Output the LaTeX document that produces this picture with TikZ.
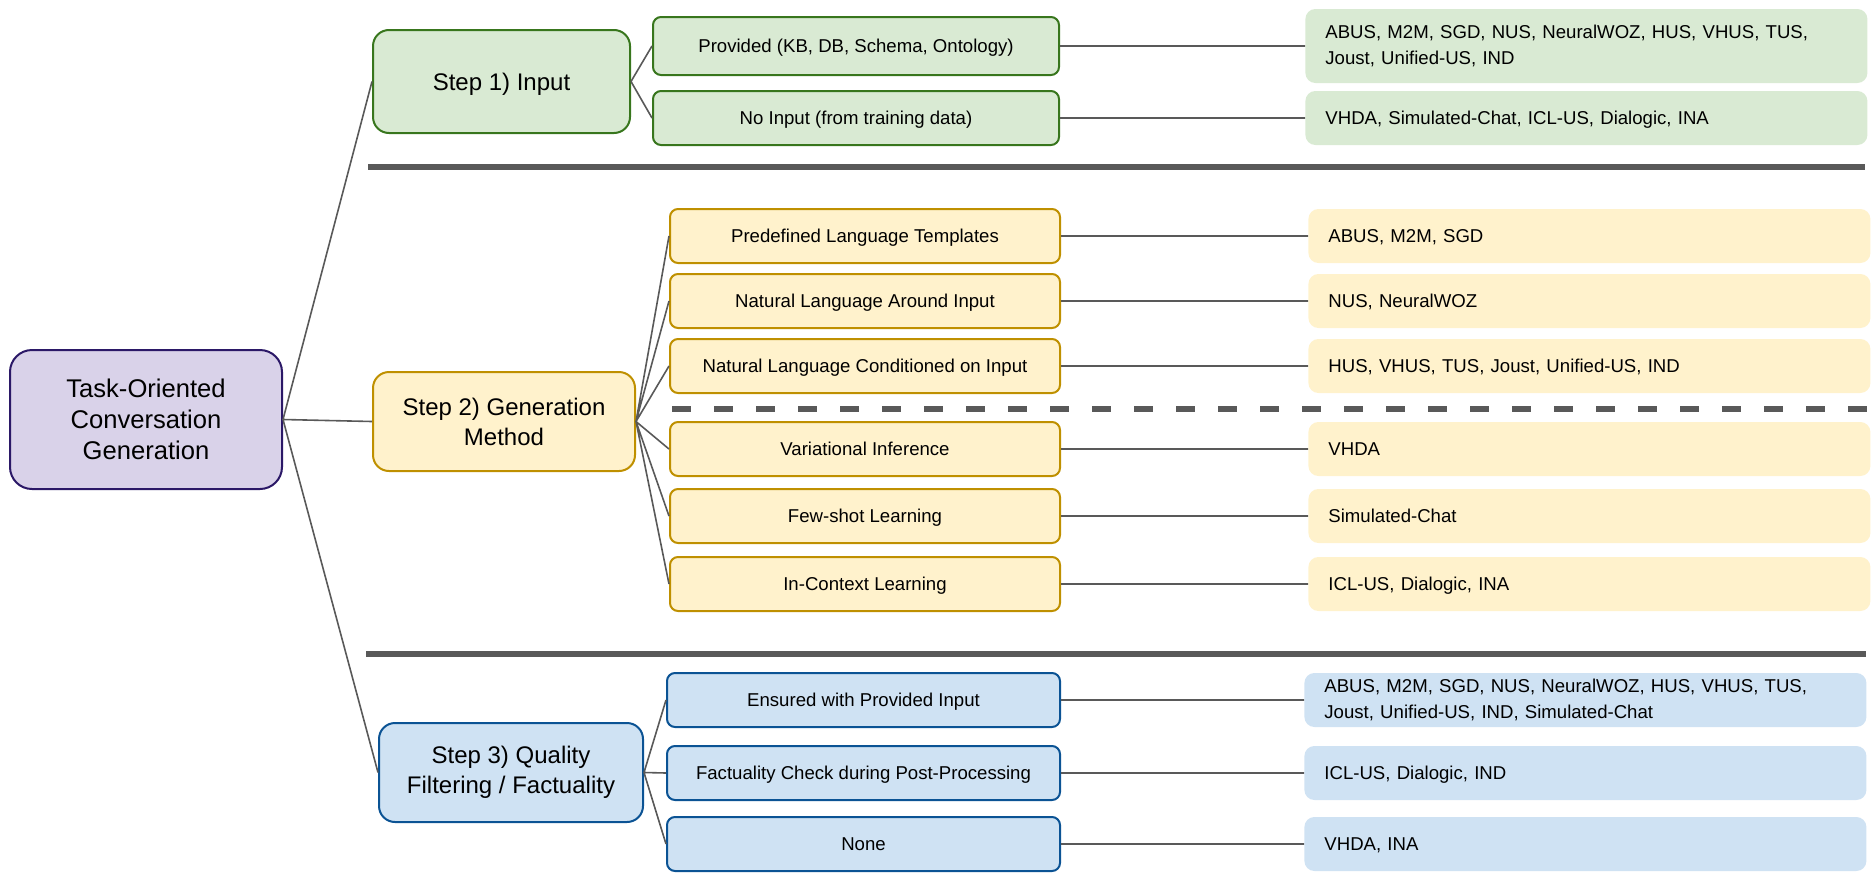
\documentclass[tikz,border=0pt]{standalone}
\usepackage{fontspec}
\setmainfont{Liberation Sans}
\usepackage{xcolor}
\usetikzlibrary{positioning}
\definecolor{rtfill}{HTML}{D9D2E9}
\definecolor{rtline}{HTML}{2B1867}
\definecolor{grfill}{HTML}{D9EAD3}
\definecolor{grline}{HTML}{38761D}
\definecolor{ylfill}{HTML}{FFF2CC}
\definecolor{ylline}{HTML}{BF9000}
\definecolor{blfill}{HTML}{CFE2F3}
\definecolor{blline}{HTML}{0B5394}
\definecolor{lngray}{HTML}{595959}
\tikzset{
	rootbox/.style={draw=rtline,fill=rtfill,line width=1pt,rounded corners=11pt,
		minimum width=136pt,minimum height=69.5pt,align=center,inner sep=0pt,
		font=\fontsize{12.8pt}{15.5pt}\selectfont},
	stepbox/.style={line width=1pt,rounded corners=8pt,minimum width=130pt,
		minimum height=49.5pt,align=center,inner sep=0pt,
		font=\fontsize{12pt}{15pt}\selectfont},
	choice/.style={line width=1pt,rounded corners=4pt,minimum width=195pt,
		minimum height=27pt,align=center,inner sep=0pt,text depth=0pt,
		font=\fontsize{9.3pt}{13pt}\selectfont},
	leaf/.style={rounded corners=5pt,minimum height=27pt,text width=261pt,
		inner xsep=10pt,inner ysep=0pt,align=left,
		font=\fontsize{9.3pt}{13pt}\selectfont},
	oneline/.style={text depth=0pt},
	green/.style={draw=grline,fill=grfill},
	yellow/.style={draw=ylline,fill=ylfill},
	blue/.style={draw=blline,fill=blfill},
	conn/.style={draw=lngray,line width=0.8pt},
	sepline/.style={draw=lngray,line width=2.8pt}
}
\begin{document}
\begin{tikzpicture}[x=0.5pt,y=-0.5pt]
\useasboundingbox (0,0) rectangle (1874,873);
	\node [rootbox] (t) at (146,419.5) {Task-Oriented\\Conversation\\Generation};

	\node [stepbox,green,oneline,minimum width=128.5pt,minimum height=51.5pt] (s1) at (501.5,81.5) {Step 1) Input};
	\node [choice,green,minimum width=203pt,minimum height=29pt] (s1a) at (856,46) {Provided (KB, DB, Schema, Ontology)};
	\node [choice,green,minimum width=203pt] (s1b) at (856,118) {No Input (from training data)};
	\node [leaf,fill=grfill,minimum height=37pt,right=122.5pt of s1a] (l1a) {ABUS, M2M, SGD, NUS, NeuralWOZ, HUS, VHUS, TUS,\\Joust, Unified-US, IND};
	\node [leaf,oneline,fill=grfill,right=122.5pt of s1b] (l1b) {VHDA, Simulated-Chat, ICL-US, Dialogic, INA};

	\node [stepbox,yellow,minimum width=131pt] (s2) at (504,421.5) {Step 2) Generation\\Method};
	\node [choice,yellow] (s2a) at (865,236) {Predefined Language Templates};
	\node [choice,yellow] (s2b) at (865,301) {Natural Language Around Input};
	\node [choice,yellow] (s2c) at (865,366) {Natural Language Conditioned on Input};
	\node [choice,yellow] (s2d) at (865,449) {Variational Inference};
	\node [choice,yellow] (s2e) at (865,516) {Few-shot Learning};
	\node [choice,yellow] (s2f) at (865,584) {In-Context Learning};
	\node [leaf,oneline,fill=ylfill,right=123.5pt of s2a] (l2a) {ABUS, M2M, SGD};
	\node [leaf,oneline,fill=ylfill,right=123.5pt of s2b] (l2b) {NUS, NeuralWOZ};
	\node [leaf,oneline,fill=ylfill,right=123.5pt of s2c] (l2c) {HUS, VHUS, TUS, Joust, Unified-US, IND};
	\node [leaf,oneline,fill=ylfill,right=123.5pt of s2d] (l2d) {VHDA};
	\node [leaf,oneline,fill=ylfill,right=123.5pt of s2e] (l2e) {Simulated-Chat};
	\node [leaf,oneline,fill=ylfill,right=123.5pt of s2f] (l2f) {ICL-US, Dialogic, INA};

	\node [stepbox,blue,minimum width=132pt] (s3) at (511,772.5) {Step 3) Quality\\Filtering / Factuality};
	\node [choice,blue,minimum width=196.5pt] (s3a) at (863.5,700) {Ensured with Provided Input};
	\node [choice,blue,minimum width=196.5pt] (s3b) at (863.5,773) {Factuality Check during Post-Processing};
	\node [choice,blue,minimum width=196.5pt] (s3c) at (863.5,844) {None};
	\node [leaf,fill=blfill,right=121.5pt of s3a] (l3a) {ABUS, M2M, SGD, NUS, NeuralWOZ, HUS, VHUS, TUS,\\Joust, Unified-US, IND, Simulated-Chat};
	\node [leaf,oneline,fill=blfill,right=121.5pt of s3b] (l3b) {ICL-US, Dialogic, IND};
	\node [leaf,oneline,fill=blfill,right=121.5pt of s3c] (l3c) {VHDA, INA};

	\draw [sepline] (368,167) -- (1865,167);
	\draw [sepline,dash pattern=on 9.5pt off 11.5pt] (672,409) -- (1867,409);
	\draw [sepline] (366,654) -- (1866,654);

	\draw [conn] (t.east) -- (s1.west) (t.east) -- (s2.west) (t.east) -- (s3.west)
		(s1.east) -- (s1a.west) (s1.east) -- (s1b.west)
		(s2.east) -- (s2a.west) (s2.east) -- (s2b.west) (s2.east) -- (s2c.west)
		(s2.east) -- (s2d.west) (s2.east) -- (s2e.west) (s2.east) -- (s2f.west)
		(s3.east) -- (s3a.west) (s3.east) -- (s3b.west) (s3.east) -- (s3c.west)
		(s1a) -- (l1a) (s1b) -- (l1b)
		(s2a) -- (l2a) (s2b) -- (l2b) (s2c) -- (l2c)
		(s2d) -- (l2d) (s2e) -- (l2e) (s2f) -- (l2f)
		(s3a) -- (l3a) (s3b) -- (l3b) (s3c) -- (l3c);
\end{tikzpicture}
\end{document}
